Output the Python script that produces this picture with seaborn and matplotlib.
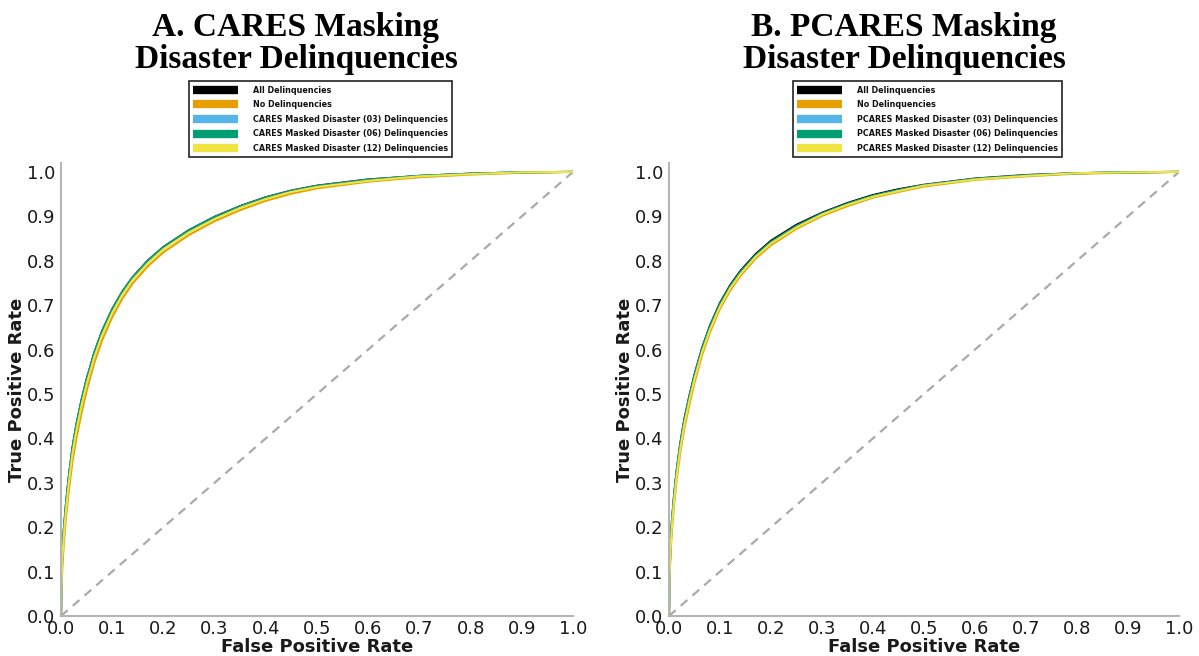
import matplotlib
matplotlib.use("Agg")
import matplotlib.pyplot as plt
import seaborn as sns
import pandas as pd
from matplotlib.lines import Line2D

# Shared false-positive-rate grid for every ROC curve
fpr = [0.0, 0.001, 0.003, 0.006, 0.01, 0.015, 0.022, 0.03, 0.04, 0.05, 0.065, 0.08,
       0.1, 0.12, 0.14, 0.17, 0.2, 0.25, 0.3, 0.35, 0.4, 0.45, 0.5, 0.6, 0.7, 0.8, 0.9, 1.0]

# Panel A: CARES masking
tpr_a_all = [0.0, 0.081, 0.151, 0.201, 0.256, 0.311, 0.376, 0.431, 0.486, 0.533, 0.593, 0.641,
             0.691, 0.731, 0.763, 0.801, 0.831, 0.869, 0.899, 0.923, 0.943, 0.958, 0.969, 0.983, 0.991, 0.996, 0.999, 1.0]
tpr_a_none = [0.0, 0.06, 0.12, 0.17, 0.225, 0.28, 0.345, 0.40, 0.457, 0.507, 0.570, 0.620,
              0.673, 0.715, 0.749, 0.788, 0.819, 0.858, 0.889, 0.914, 0.935, 0.951, 0.963, 0.978, 0.988, 0.994, 0.998, 1.0]
tpr_a_03 = [0.0, 0.08, 0.15, 0.20, 0.255, 0.31, 0.375, 0.43, 0.485, 0.532, 0.592, 0.640,
            0.69, 0.73, 0.762, 0.80, 0.83, 0.868, 0.898, 0.922, 0.942, 0.957, 0.968, 0.982, 0.991, 0.996, 0.999, 1.0]
tpr_a_06 = [0.0, 0.08, 0.15, 0.20, 0.255, 0.31, 0.375, 0.43, 0.485, 0.532, 0.592, 0.640,
            0.69, 0.73, 0.762, 0.80, 0.83, 0.868, 0.898, 0.922, 0.942, 0.957, 0.968, 0.982, 0.991, 0.996, 0.999, 1.0]
tpr_a_12 = [0.0, 0.07, 0.137, 0.187, 0.242, 0.298, 0.363, 0.418, 0.474, 0.522, 0.583, 0.632,
            0.683, 0.724, 0.757, 0.795, 0.826, 0.864, 0.894, 0.919, 0.939, 0.955, 0.966, 0.980, 0.990, 0.995, 0.999, 1.0]

# Panel B: PCARES masking
tpr_b_all = [0.0, 0.093, 0.163, 0.218, 0.273, 0.328, 0.388, 0.443, 0.496, 0.544, 0.604, 0.653,
             0.705, 0.745, 0.777, 0.815, 0.845, 0.881, 0.908, 0.930, 0.948, 0.961, 0.971, 0.985, 0.993, 0.997, 0.999, 1.0]
tpr_b_none = [0.0, 0.078, 0.142, 0.197, 0.252, 0.307, 0.367, 0.422, 0.476, 0.526, 0.588, 0.638,
              0.692, 0.733, 0.766, 0.805, 0.835, 0.872, 0.901, 0.923, 0.942, 0.955, 0.967, 0.982, 0.990, 0.996, 0.998, 1.0]
tpr_b_03 = [0.0, 0.09, 0.16, 0.215, 0.27, 0.325, 0.385, 0.44, 0.493, 0.541, 0.601, 0.650,
            0.702, 0.742, 0.774, 0.812, 0.842, 0.878, 0.906, 0.928, 0.946, 0.959, 0.970, 0.984, 0.992, 0.997, 0.999, 1.0]
tpr_b_06 = [0.0, 0.09, 0.16, 0.215, 0.27, 0.325, 0.385, 0.44, 0.493, 0.541, 0.601, 0.650,
            0.702, 0.742, 0.774, 0.812, 0.842, 0.878, 0.906, 0.928, 0.946, 0.959, 0.970, 0.984, 0.992, 0.997, 0.999, 1.0]
tpr_b_12 = [0.0, 0.084, 0.151, 0.206, 0.261, 0.316, 0.376, 0.431, 0.485, 0.534, 0.595, 0.644,
            0.697, 0.738, 0.770, 0.809, 0.839, 0.875, 0.904, 0.926, 0.944, 0.957, 0.969, 0.983, 0.991, 0.997, 0.999, 1.0]

colors = ["#000000", "#E69F00", "#56B4E9", "#009E73", "#F0E442"]
ticks = [0.0, 0.1, 0.2, 0.3, 0.4, 0.5, 0.6, 0.7, 0.8, 0.9, 1.0]
tick_labels = ["0.0", "0.1", "0.2", "0.3", "0.4", "0.5", "0.6", "0.7", "0.8", "0.9", "1.0"]

panels = [
    {
        "title": ["A. CARES Masking", "Disaster Delinquencies"],
        "labels": ["All Delinquencies", "No Delinquencies",
                   "CARES Masked Disaster (03) Delinquencies",
                   "CARES Masked Disaster (06) Delinquencies",
                   "CARES Masked Disaster (12) Delinquencies"],
        "series": [tpr_a_all, tpr_a_none, tpr_a_03, tpr_a_06, tpr_a_12],
    },
    {
        "title": ["B. PCARES Masking", "Disaster Delinquencies"],
        "labels": ["All Delinquencies", "No Delinquencies",
                   "PCARES Masked Disaster (03) Delinquencies",
                   "PCARES Masked Disaster (06) Delinquencies",
                   "PCARES Masked Disaster (12) Delinquencies"],
        "series": [tpr_b_all, tpr_b_none, tpr_b_03, tpr_b_06, tpr_b_12],
    },
]

sns.set_style("white")
plt.rcParams["font.family"] = ["DejaVu Sans"]

W, H = 1199, 656
fig = plt.figure(figsize=(W / 100, H / 100), dpi=100)
axes_rects = [
    [61 / W, 1 - 616 / H, 512 / W, 453 / H],
    [669 / W, 1 - 616 / H, 510 / W, 453 / H],
]
title_x = [296 / W, 904 / W]

for rect, tx, panel in zip(axes_rects, title_x, panels):
    ax = fig.add_axes(rect)
    frames = []
    for label, tpr in zip(panel["labels"], panel["series"]):
        frames.append(pd.DataFrame({"fpr": fpr, "tpr": tpr, "model": label}))
    df = pd.concat(frames, ignore_index=True)
    sns.lineplot(data=df, x="fpr", y="tpr", hue="model", hue_order=panel["labels"],
                 palette=colors, estimator=None, sort=False, linewidth=1.5,
                 legend=False, ax=ax)
    # chance line
    ax.plot([0, 1], [0, 1], color="#aaaaaa", linestyle=(0, (4, 3)), linewidth=1.6, zorder=1)

    ax.set_xlim(0, 1.0)
    ax.set_ylim(0, 1.02)
    ax.set_xticks(ticks)
    ax.set_xticklabels(tick_labels)
    ax.set_yticks(ticks)
    ax.set_yticklabels(tick_labels)
    ax.tick_params(axis="x", length=0, labelsize=13, labelcolor="#1a1a1a", pad=3)
    ax.tick_params(axis="y", length=0, labelsize=13, labelcolor="#1a1a1a", pad=4)
    ax.set_xlabel("False Positive Rate", fontsize=13, fontweight="bold", color="#1a1a1a", labelpad=0)
    ax.set_ylabel("True Positive Rate", fontsize=13, fontweight="bold", color="#1a1a1a", labelpad=1)
    for side in ["top", "right"]:
        ax.spines[side].set_visible(False)
    for side in ["left", "bottom"]:
        ax.spines[side].set_color("#b5b5b5")
        ax.spines[side].set_linewidth(1.5)

    handles = [Line2D([0], [0], color=c, linewidth=6, solid_capstyle="butt") for c in colors]
    leg = ax.legend(handles, panel["labels"], loc="lower center", bbox_to_anchor=(0.507, 1.013),
                    frameon=True, fancybox=False, framealpha=1, edgecolor="#222222",
                    prop={"size": 5.8, "weight": "bold"}, handlelength=5.6,
                    labelspacing=0.7, handletextpad=1.8, borderpad=0.5, borderaxespad=0)
    leg.get_frame().set_linewidth(1.2)
    for t in leg.get_texts():
        t.set_color("#111111")

    # two-line bold serif panel title
    fig.text(tx, 1 - 36 / H, panel["title"][0], ha="center", va="baseline",
             fontsize=24, fontweight="bold", family="Liberation Serif", color="black")
    fig.text(tx, 1 - 68 / H, panel["title"][1], ha="center", va="baseline",
             fontsize=24, fontweight="bold", family="Liberation Serif", color="black")

fig.savefig("out.png", dpi=100, facecolor="white")
